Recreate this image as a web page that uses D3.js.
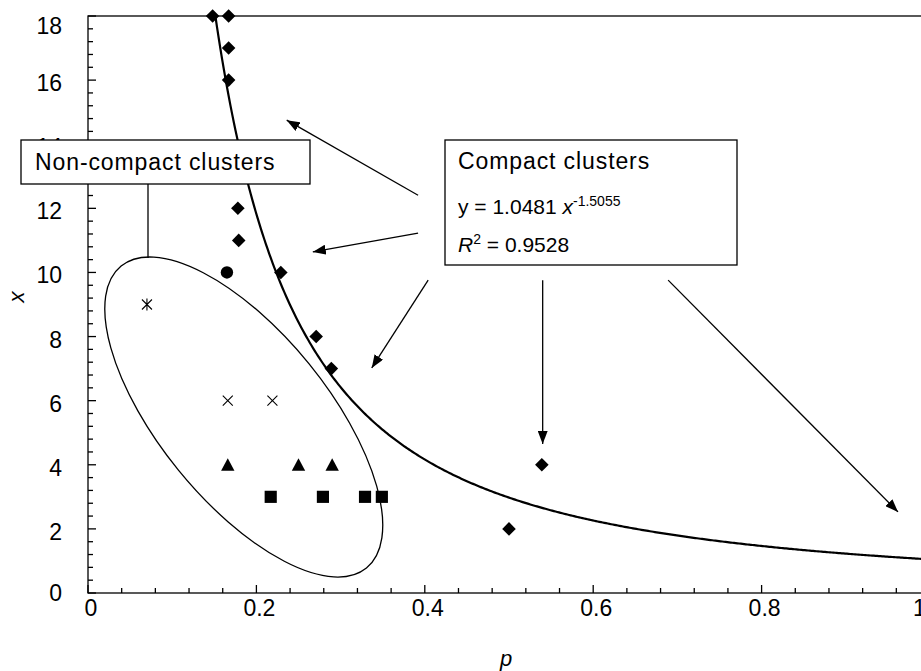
<!DOCTYPE html>
<html>
<head>
<meta charset="utf-8">
<script src="https://cdn.jsdelivr.net/npm/d3@7"></script>
<style>
  body { margin: 0; background: #fff; }
  svg text { font-family: "Liberation Sans", Arial, sans-serif; fill: #000; }
</style>
</head>
<body>
<script>
// compact clusters (diamonds)
var diamondP = [0.148, 0.167, 0.167, 0.167, 0.178, 0.179, 0.229, 0.271, 0.289, 0.539, 0.5];
var diamondX = [18, 18, 17, 16, 12, 11, 10, 8, 7, 4, 2];
// non-compact clusters
var circleP = [0.165];
var circleX = [10];
var starP = [0.07];
var starX = [9];
var crossP = [0.166, 0.219];
var crossX = [6, 6];
var triangleP = [0.166, 0.25, 0.29];
var triangleX = [4, 4, 4];
var squareP = [0.217, 0.279, 0.329, 0.349];
var squareX = [3, 3, 3, 3];

// power trendline y = a * p^b
var fitA = 1.0481;
var fitB = -1.5055;

var xTicks = [0, 0.2, 0.4, 0.6, 0.8, 1];
var yTicks = [0, 2, 4, 6, 8, 10, 12, 14, 16, 18];

var width = 921, height = 671;
var plotL = 88, plotR = 930, plotT = 16, plotB = 593;

var x = d3.scaleLinear().domain([0, 1]).range([plotL, plotR]);
var y = d3.scaleLinear().domain([0, 18]).range([plotB, plotT]);

var svg = d3.select("body").append("svg")
    .attr("width", width)
    .attr("height", height);

var defs = svg.append("defs");
defs.append("marker")
    .attr("id", "head")
    .attr("viewBox", "0 0 13 10")
    .attr("refX", 13)
    .attr("refY", 5)
    .attr("markerWidth", 13)
    .attr("markerHeight", 10)
    .attr("markerUnits", "userSpaceOnUse")
    .attr("orient", "auto")
    .append("path")
    .attr("d", "M0,0L13,5L0,10Z")
    .attr("fill", "#000");

// frame
svg.append("rect")
    .attr("x", plotL).attr("y", plotT)
    .attr("width", plotR - plotL).attr("height", plotB - plotT)
    .attr("fill", "none").attr("stroke", "#000").attr("stroke-width", 1.3);

// minor and major ticks, pointing inwards
var xMinor = d3.range(0, 1.0001, 0.04);
svg.append("g").selectAll("line").data(xMinor).enter().append("line")
    .attr("x1", function(d) { return x(d); })
    .attr("x2", function(d) { return x(d); })
    .attr("y1", plotB)
    .attr("y2", function(d, i) { return i % 5 === 0 ? plotB - 8 : plotB - 5; })
    .attr("stroke", "#000").attr("stroke-width", 1.3);

var yMinor = d3.range(0, 18.0001, 0.4);
svg.append("g").selectAll("line").data(yMinor).enter().append("line")
    .attr("y1", function(d) { return y(d); })
    .attr("y2", function(d) { return y(d); })
    .attr("x1", plotL)
    .attr("x2", function(d, i) { return i % 5 === 0 ? plotL + 8 : plotL + 5; })
    .attr("stroke", "#000").attr("stroke-width", 1.3);

svg.append("g").selectAll("text").data(xTicks).enter().append("text")
    .attr("x", function(d) { return d === 1 ? 913 : x(d) + 3; })
    .attr("y", 616)
    .attr("text-anchor", function(d) { return d === 1 ? "start" : "middle"; })
    .style("font-size", "23px")
    .text(function(d) { return d; });

svg.append("g").selectAll("text").data(yTicks).enter().append("text")
    .attr("x", 62)
    .attr("y", function(d) { return d === 0 ? y(d) + 8 : Math.max(y(d) + 11, 34); })
    .attr("text-anchor", "end")
    .style("font-size", "23px")
    .text(function(d) { return d; });

// axis titles
svg.append("text")
    .attr("x", 506).attr("y", 666)
    .attr("text-anchor", "middle")
    .style("font-size", "22px").style("font-style", "italic")
    .text("p");
svg.append("text")
    .attr("transform", "translate(24,297) rotate(-90)")
    .attr("text-anchor", "middle")
    .style("font-size", "22px").style("font-style", "italic")
    .text("x");

// trendline
var pStart = Math.pow(18 / fitA, 1 / fitB);
var curveP = d3.range(pStart, 1.0001, 0.002);
svg.append("path")
    .datum(curveP)
    .attr("fill", "none").attr("stroke", "#000").attr("stroke-width", 2.2)
    .attr("d", d3.line()
        .x(function(d) { return x(d); })
        .y(function(d) { return y(fitA * Math.pow(d, fitB)); }));

// ellipse around non-compact clusters
var ellCx = 0.185, ellCy = 5.49;
svg.append("ellipse")
    .attr("transform", "translate(" + x(ellCx) + "," + y(ellCy) + ") rotate(50.9)")
    .attr("rx", 194.5).attr("ry", 84.2)
    .attr("fill", "none").attr("stroke", "#000").attr("stroke-width", 1.3);

// markers
function zip(ps, xs) { return ps.map(function(p, i) { return [p, xs[i]]; }); }

svg.append("g").selectAll("path").data(zip(diamondP, diamondX)).enter().append("path")
    .attr("transform", function(d) { return "translate(" + x(d[0]) + "," + y(d[1]) + ") rotate(45)"; })
    .attr("d", d3.symbol().type(d3.symbolSquare).size(92))
    .attr("fill", "#000");

svg.append("g").selectAll("circle").data(zip(circleP, circleX)).enter().append("circle")
    .attr("cx", function(d) { return x(d[0]); })
    .attr("cy", function(d) { return y(d[1]); })
    .attr("r", 6.2).attr("fill", "#000");

svg.append("g").selectAll("path").data(zip(squareP, squareX)).enter().append("path")
    .attr("transform", function(d) { return "translate(" + x(d[0]) + "," + y(d[1]) + ")"; })
    .attr("d", d3.symbol().type(d3.symbolSquare).size(148))
    .attr("fill", "#000");

svg.append("g").selectAll("path").data(zip(triangleP, triangleX)).enter().append("path")
    .attr("transform", function(d) { return "translate(" + x(d[0]) + "," + y(d[1]) + ")"; })
    .attr("d", "M0,-6.5L6.7,6L-6.7,6Z")
    .attr("fill", "#000");

svg.append("g").selectAll("path").data(zip(crossP, crossX)).enter().append("path")
    .attr("transform", function(d) { return "translate(" + x(d[0]) + "," + y(d[1]) + ")"; })
    .attr("d", "M-5,-5L5,5M-5,5L5,-5")
    .attr("stroke", "#000").attr("stroke-width", 1.1).attr("fill", "none");

svg.append("g").selectAll("path").data(zip(starP, starX)).enter().append("path")
    .attr("transform", function(d) { return "translate(" + x(d[0]) + "," + y(d[1]) + ")"; })
    .attr("d", "M-5,-5L5,5M-5,5L5,-5M0,-6L0,6")
    .attr("stroke", "#000").attr("stroke-width", 1.1).attr("fill", "none");

// arrows from the compact box, in data units [p0, x0, p1, x1]
var arrows = [
    [0.392, 12.41, 0.236, 14.75],
    [0.392, 11.23, 0.267, 10.64],
    [0.404, 9.76, 0.337, 7.02],
    [0.540, 9.76, 0.540, 4.65],
    [0.689, 9.76, 0.962, 2.53]
];
svg.append("g").selectAll("line").data(arrows).enter().append("line")
    .attr("x1", function(d) { return x(d[0]); })
    .attr("y1", function(d) { return y(d[1]); })
    .attr("x2", function(d) { return x(d[2]); })
    .attr("y2", function(d) { return y(d[3]); })
    .attr("stroke", "#000").attr("stroke-width", 1.3)
    .attr("marker-end", "url(#head)");

// non-compact label box
svg.append("line")
    .attr("x1", 148).attr("x2", 148).attr("y1", 184).attr("y2", 258)
    .attr("stroke", "#000").attr("stroke-width", 1.3);
svg.append("rect")
    .attr("x", 21).attr("y", 140).attr("width", 289).attr("height", 44)
    .attr("fill", "#fff").attr("stroke", "#000").attr("stroke-width", 1.3);
svg.append("text")
    .attr("x", 35).attr("y", 170)
    .style("font-size", "23px").style("letter-spacing", "0.9px")
    .text("Non-compact clusters");

// compact label box
svg.append("rect")
    .attr("x", 445).attr("y", 140).attr("width", 292).attr("height", 125)
    .attr("fill", "#fff").attr("stroke", "#000").attr("stroke-width", 1.3);
svg.append("text")
    .attr("x", 458).attr("y", 169)
    .style("font-size", "23px").style("letter-spacing", "0.9px")
    .text("Compact clusters");

var eq = svg.append("text")
    .attr("x", 458).attr("y", 214)
    .style("font-size", "21px");
eq.append("tspan").text("y = " + fitA + " ");
eq.append("tspan").style("font-style", "italic").text("x");
eq.append("tspan").attr("dy", -8).style("font-size", "14px").text("" + fitB);

var r2 = svg.append("text")
    .attr("x", 458).attr("y", 252)
    .style("font-size", "21px");
r2.append("tspan").style("font-style", "italic").text("R");
r2.append("tspan").attr("dy", -8).style("font-size", "14px").text("2");
r2.append("tspan").attr("dy", 8).text(" = 0.9528");
</script>
</body>
</html>
